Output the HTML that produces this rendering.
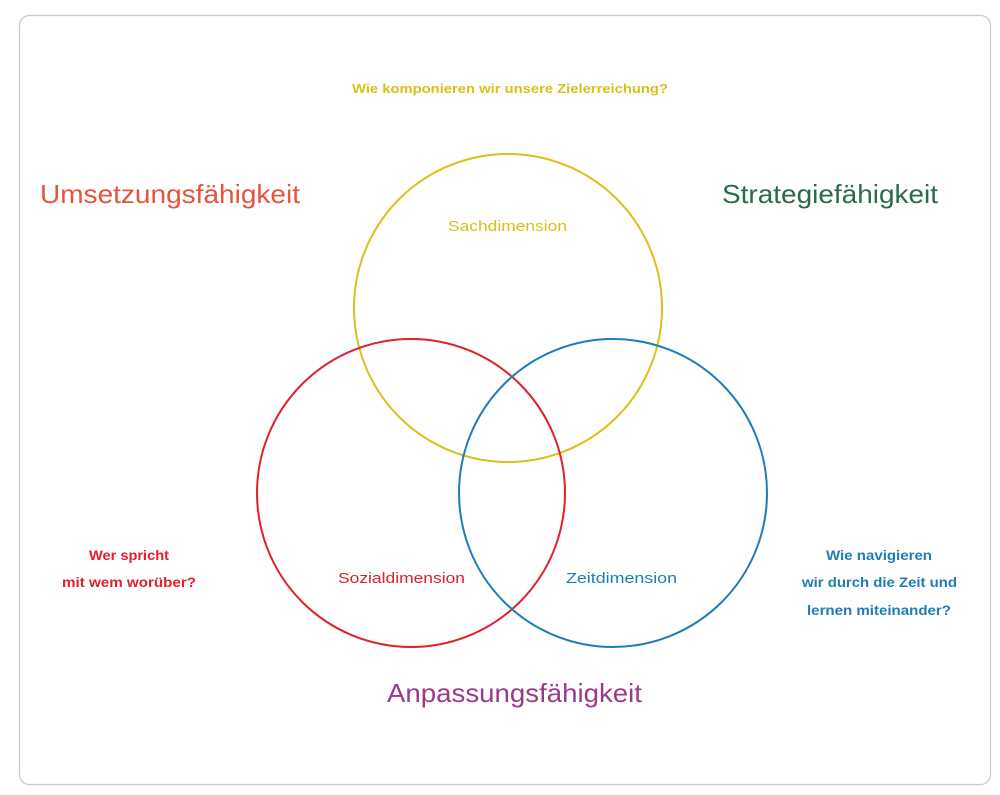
<!DOCTYPE html>
<html><head><meta charset="utf-8"><style>
html,body{margin:0;padding:0;background:#fff;width:1000px;height:795px;overflow:hidden}
svg{display:block}
text{font-family:"Liberation Sans",sans-serif}
</style></head><body>
<svg width="1000" height="795" viewBox="0 0 1000 795">
<rect x="19.5" y="15.5" width="971" height="769" rx="10" fill="#fff" stroke="#c8c8c8" stroke-width="1.2"/>
<circle cx="508" cy="308" r="154" fill="none" stroke="#d8c21a" stroke-width="2"/>
<circle cx="411" cy="493" r="154" fill="none" stroke="#e0202a" stroke-width="2"/>
<circle cx="613" cy="493" r="154" fill="none" stroke="#1f7db5" stroke-width="2"/>
<text x="352" y="93" font-size="13" font-weight="bold" fill="#d8c21a" textLength="316" lengthAdjust="spacingAndGlyphs">Wie komponieren wir unsere Zielerreichung?</text>
<text x="40" y="203" font-size="26" fill="#e4553c" textLength="260" lengthAdjust="spacingAndGlyphs">Umsetzungsfähigkeit</text>
<text x="722" y="203" font-size="26" fill="#2c6a4a" textLength="216" lengthAdjust="spacingAndGlyphs">Strategiefähigkeit</text>
<text x="387" y="702" font-size="26" fill="#9b3a8a" textLength="255" lengthAdjust="spacingAndGlyphs">Anpassungsfähigkeit</text>
<text x="448" y="231" font-size="15" fill="#d8c21a" textLength="119" lengthAdjust="spacingAndGlyphs">Sachdimension</text>
<text x="338" y="583" font-size="15" fill="#e0202a" textLength="127" lengthAdjust="spacingAndGlyphs">Sozialdimension</text>
<text x="566" y="583" font-size="15" fill="#1f7db5" textLength="111" lengthAdjust="spacingAndGlyphs">Zeitdimension</text>
<g font-size="14" font-weight="bold" fill="#e0202a">
<text x="89" y="560" textLength="80" lengthAdjust="spacingAndGlyphs">Wer spricht</text>
<text x="62" y="587" textLength="134" lengthAdjust="spacingAndGlyphs">mit wem worüber?</text>
</g>
<g font-size="14" font-weight="bold" fill="#1f7db5">
<text x="826" y="560" textLength="106" lengthAdjust="spacingAndGlyphs">Wie navigieren</text>
<text x="802" y="587" textLength="155" lengthAdjust="spacingAndGlyphs">wir durch die Zeit und</text>
<text x="807" y="615" textLength="144" lengthAdjust="spacingAndGlyphs">lernen miteinander?</text>
</g>
</svg>
</body></html>
